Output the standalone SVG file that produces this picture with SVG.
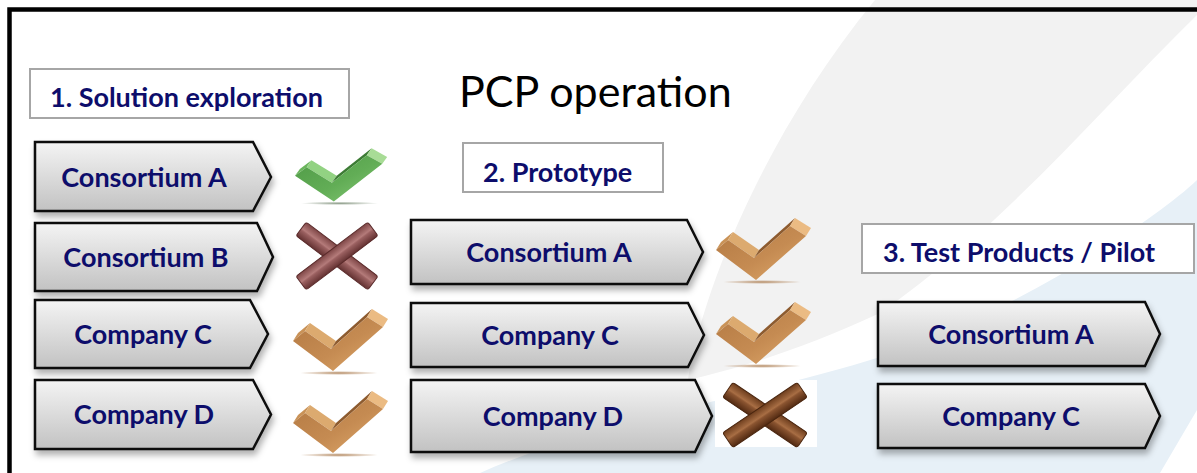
<svg xmlns="http://www.w3.org/2000/svg" xmlns:xlink="http://www.w3.org/1999/xlink" width="1197" height="473" viewBox="0 0 1197 473">
  <defs>
    <style>
      .chev { fill: url(#chevGrad); stroke: #0d0d0d; stroke-width: 2.5; stroke-linejoin: miter; filter: url(#shadow); }
      .nt { font-family: Lato, "Liberation Sans", sans-serif; font-weight: 700; font-size: 27px; fill: #0d0d6b; text-anchor: middle; }
      .lbox { fill: #ffffff; stroke: #a6a6a6; stroke-width: 2; }
      .lt { font-family: Lato, "Liberation Sans", sans-serif; font-weight: 700; font-size: 27px; fill: #0d0d6b; }
      .title { font-family: Lato, "Liberation Sans", sans-serif; font-size: 43px; fill: #000000; }
    </style>
    <linearGradient id="chevGrad" x1="0" y1="0" x2="0" y2="1">
      <stop offset="0" stop-color="#f4f4f4"/>
      <stop offset="1" stop-color="#c2c2c2"/>
    </linearGradient>
    <filter id="shadow" x="-5%" y="-10%" width="115%" height="140%">
      <feDropShadow dx="2" dy="5" stdDeviation="3" flood-color="#000" flood-opacity="0.3"/>
    </filter>
    <linearGradient id="brFront" x1="0" y1="0" x2="1" y2="1">
      <stop offset="0" stop-color="#b47a43"/>
      <stop offset="0.55" stop-color="#c58b52"/>
      <stop offset="1" stop-color="#e0aa6c"/>
    </linearGradient>
    <linearGradient id="grFront" x1="0" y1="0" x2="1" y2="1">
      <stop offset="0" stop-color="#4f9a46"/>
      <stop offset="0.55" stop-color="#62ad56"/>
      <stop offset="1" stop-color="#86c977"/>
    </linearGradient>
    <radialGradient id="brShadow">
      <stop offset="0" stop-color="#b48a62"/>
      <stop offset="1" stop-color="#b48a62" stop-opacity="0"/>
    </radialGradient>
    <radialGradient id="grShadow">
      <stop offset="0" stop-color="#8c9c88"/>
      <stop offset="1" stop-color="#8c9c88" stop-opacity="0"/>
    </radialGradient>
    <linearGradient id="xRed" x1="0" y1="0" x2="0" y2="1">
      <stop offset="0" stop-color="#7e4646"/>
      <stop offset="0.45" stop-color="#b47b7a"/>
      <stop offset="0.55" stop-color="#9a6060"/>
      <stop offset="1" stop-color="#643232"/>
    </linearGradient>
    <linearGradient id="xBrown" x1="0" y1="0" x2="0" y2="1">
      <stop offset="0" stop-color="#6e3e1e"/>
      <stop offset="0.45" stop-color="#a86e44"/>
      <stop offset="0.55" stop-color="#8a5430"/>
      <stop offset="1" stop-color="#522a12"/>
    </linearGradient>
    <g id="checkBrown">
      <ellipse cx="46" cy="62" rx="40" ry="2" fill="url(#brShadow)"/>
      <polygon points="0,30 12,20 17,12 5,22" fill="#c99257"/>
      <polygon points="12,20 38,38 43,30 17,12" fill="#dcaa6f"/>
      <polygon points="38,38 74,6 79,-2 43,30" fill="#8d5b2f"/>
      <polygon points="74,6 90,16 95,8 79,-2" fill="#ebbb83"/>
      <polygon points="0,30 12,20 38,38 74,6 90,16 40,60" fill="url(#brFront)"/>
    </g>
    <g id="checkGreen">
      <ellipse cx="46" cy="62" rx="40" ry="2" fill="url(#grShadow)"/>
      <polygon points="0,30 12,20 17,12 5,22" fill="#6ab55c"/>
      <polygon points="12,20 38,38 43,30 17,12" fill="#92d282"/>
      <polygon points="38,38 74,6 79,-2 43,30" fill="#3c7b34"/>
      <polygon points="74,6 90,16 95,8 79,-2" fill="#a8dc96"/>
      <polygon points="0,30 12,20 38,38 74,6 90,16 40,60" fill="url(#grFront)"/>
    </g>
  </defs>

  <!-- background -->
  <rect x="0" y="0" width="1197" height="473" fill="#ffffff"/>
  <path d="M875,0 L1197,0 L1197,15 C1100,110 1000,230 880,313 C800,350 740,368 688,380 C700,300 760,140 875,0 Z" fill="#f2f2f2"/>
  <path d="M1197,180 C1150,225 1000,320 880,357 C760,395 600,420 480,473 L1160,473 L1197,410 Z" fill="#e7f0f7"/>

  <!-- frame -->
  <path d="M9.5,473 V9.5 H1197" fill="none" stroke="#000" stroke-width="4.5"/>

  <!-- title -->
  <text class="title" x="459" y="107">PCP operation</text>

  <!-- stage labels -->
  <g id="label-1">
    <rect class="lbox" x="30" y="69" width="319" height="49"/>
    <text class="lt" x="50" y="107">1. Solution exploration</text>
  </g>
  <g id="label-2">
    <rect class="lbox" x="463" y="143" width="200" height="49"/>
    <text class="lt" x="483" y="182">2. Prototype</text>
  </g>
  <g id="label-3">
    <rect class="lbox" x="862" y="224" width="332" height="49"/>
    <text class="lt" x="883" y="262">3. Test Products / Pilot</text>
  </g>

  <!-- column 1 -->
  <g id="s1-consortium-a">
    <path class="chev" d="M35,142 H253 L271,177 L253,211 H35 Z"/>
    <text class="nt" x="144" y="187">Consortium A</text>
  </g>
  <g id="s1-consortium-b">
    <path class="chev" d="M35,223 H257 L273,257 L257,291 H35 Z"/>
    <text class="nt" x="146" y="267">Consortium B</text>
  </g>
  <g id="s1-company-c">
    <path class="chev" d="M35,300 H250 L268,334 L250,368 H35 Z"/>
    <text class="nt" x="143" y="344">Company C</text>
  </g>
  <g id="s1-company-d">
    <path class="chev" d="M35,380 H253 L271,414.5 L253,449 H35 Z"/>
    <text class="nt" x="144" y="424">Company D</text>
  </g>

  <!-- column 2 -->
  <g id="s2-consortium-a">
    <path class="chev" d="M411,220 H687 L703,252 L687,284 H411 Z"/>
    <text class="nt" x="549" y="262">Consortium A</text>
  </g>
  <g id="s2-company-c">
    <path class="chev" d="M411,303 H688 L704,335 L688,367 H411 Z"/>
    <text class="nt" x="550" y="345">Company C</text>
  </g>
  <g id="s2-company-d">
    <path class="chev" d="M411,380 H695 L712,416 L695,452 H411 Z"/>
    <text class="nt" x="553" y="426">Company D</text>
  </g>

  <!-- column 3 -->
  <g id="s3-consortium-a">
    <path class="chev" d="M878,302 H1145 L1160,334 L1145,366 H878 Z"/>
    <text class="nt" x="1011" y="344">Consortium A</text>
  </g>
  <g id="s3-company-c">
    <path class="chev" d="M878,384 H1145 L1160,416 L1145,448 H878 Z"/>
    <text class="nt" x="1011" y="426">Company C</text>
  </g>

  <!-- result marks -->
  <g id="mark-s1-a">
    <use href="#checkGreen" xlink:href="#checkGreen" transform="translate(295,150) scale(0.97,0.86)"/>
  </g>
  <g id="mark-s1-b">
    <rect x="-45" y="-8.5" width="90" height="17" rx="2.5" fill="url(#xRed)" stroke="#5a2a2a" stroke-width="1" transform="translate(337,256) rotate(37)"/>
    <rect x="-45" y="-8.5" width="90" height="17" rx="2.5" fill="url(#xRed)" stroke="#5a2a2a" stroke-width="1" transform="translate(337,256) rotate(-37)"/>
  </g>
  <g id="mark-s1-c">
    <use href="#checkBrown" xlink:href="#checkBrown" transform="translate(293,311)"/>
  </g>
  <g id="mark-s1-d">
    <use href="#checkBrown" xlink:href="#checkBrown" transform="translate(293,393)"/>
  </g>
  <g id="mark-s2-a">
    <use href="#checkBrown" xlink:href="#checkBrown" transform="translate(716,220)"/>
  </g>
  <g id="mark-s2-c">
    <use href="#checkBrown" xlink:href="#checkBrown" transform="translate(716,304)"/>
  </g>
  <g id="mark-s2-d">
    <rect x="715" y="380" width="102" height="67" fill="#ffffff"/>
    <rect x="-45" y="-9" width="90" height="18" rx="2.5" fill="url(#xBrown)" stroke="#4a260f" stroke-width="1" transform="translate(765,415) rotate(34)"/>
    <rect x="-45" y="-9" width="90" height="18" rx="2.5" fill="url(#xBrown)" stroke="#4a260f" stroke-width="1" transform="translate(765,415) rotate(-34)"/>
  </g>

  <g id="connectors"/>
</svg>
